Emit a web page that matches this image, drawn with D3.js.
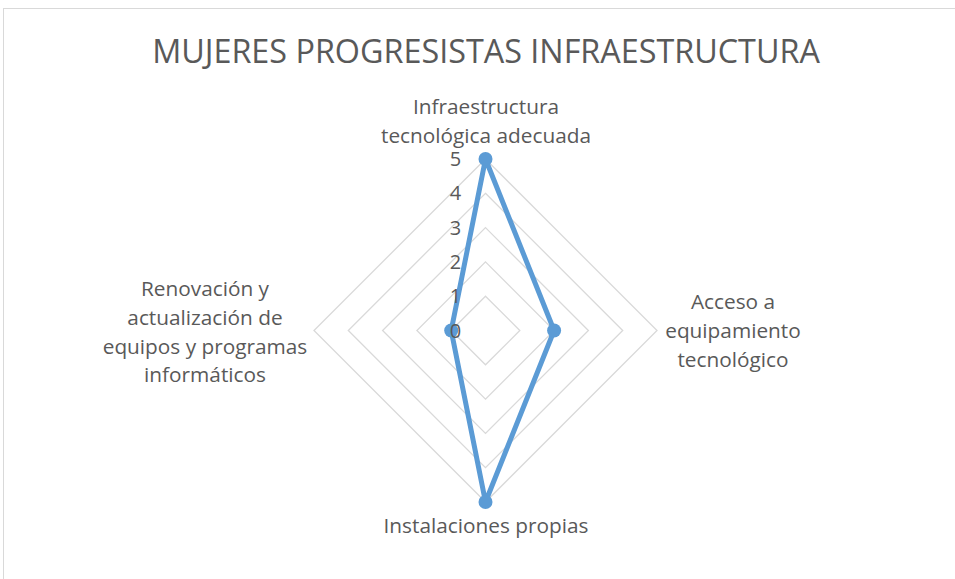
<!DOCTYPE html>
<html>
<head>
<meta charset="utf-8">
<script src="https://cdn.jsdelivr.net/npm/d3@7"></script>
<style>
  html, body { margin: 0; padding: 0; background: #fff; }
  svg { display: block; }
  text { font-family: "Open Sans", "Noto Sans", sans-serif; fill: #595959; }
</style>
</head>
<body>
<svg id="chart" width="955" height="579"></svg>
<script>
const title = "MUJERES PROGRESISTAS INFRAESTRUCTURA";
const categories = [
  ["Infraestructura", "tecnológica adecuada"],
  ["Acceso a", "equipamiento", "tecnológico"],
  ["Instalaciones propias"],
  ["Renovación y", "actualización de", "equipos y programas", "informáticos"]
];
const values = [5, 2, 5, 1];
const tickValues = [0, 1, 2, 3, 4, 5];

const svg = d3.select("#chart");
const cx = 485.5, cy = 330.5, R = 171.5;

// chart border
svg.append("rect")
  .attr("x", 3.5).attr("y", 8.5)
  .attr("width", 1000).attr("height", 1000)
  .attr("fill", "#fff").attr("stroke", "#d9d9d9").attr("stroke-width", 1);

function fit(sel, target, base) {
  const w = sel.node().getComputedTextLength();
  sel.attr("font-size", base * target / w);
}

// title
const t = svg.append("text")
  .attr("x", 486).attr("y", 63)
  .attr("text-anchor", "middle")
  .attr("font-size", 30)
  .text(title);
fit(t, 668, 30);

const r = d3.scaleLinear().domain([0, 5]).range([0, R]);
const angle = d3.scalePoint().domain(d3.range(categories.length)).range([0, 2 * Math.PI * (categories.length - 1) / categories.length]);
const pt = (i, v) => [cx + r(v) * Math.sin(angle(i)), cy - r(v) * Math.cos(angle(i))];

// grid
const g = svg.append("g");
tickValues.filter(v => v > 0).forEach(v => {
  g.append("path")
    .attr("d", d3.line()(categories.map((c, i) => pt(i, v))) + "Z")
    .attr("fill", "none").attr("stroke", "#d9d9d9").attr("stroke-width", 1.3);
});

// data
const pts = values.map((v, i) => pt(i, v));
svg.append("path")
  .attr("d", d3.line()(pts) + "Z")
  .attr("fill", "none").attr("stroke", "#5b9bd5")
  .attr("stroke-width", 5).attr("stroke-linejoin", "round");
svg.selectAll("circle.m").data(pts).enter().append("circle")
  .attr("cx", d => d[0]).attr("cy", d => d[1]).attr("r", 7)
  .attr("fill", "#5b9bd5");

// tick labels
tickValues.forEach(v => {
  svg.append("text")
    .attr("x", cx - 30).attr("y", cy - r(v) + 7)
    .attr("text-anchor", "middle")
    .attr("font-size", 20)
    .text(v);
});

// category labels
const labelPos = [
  { x: 486, y: 106 },
  { x: 733, y: 301 },
  { x: 486, y: 525 },
  { x: 205, y: 288 }
];
const probe = svg.append("text").attr("font-size", 18).text("Instalaciones propias");
const lblSize = 18 * 205 / probe.node().getComputedTextLength();
probe.remove();
const lh = 28.8;
categories.forEach((lines, i) => {
  lines.forEach((s, k) => {
    svg.append("text")
      .attr("x", labelPos[i].x).attr("y", labelPos[i].y + k * lh)
      .attr("text-anchor", "middle")
      .attr("dominant-baseline", "central")
      .attr("font-size", lblSize)
      .text(s);
  });
});
</script>
</body>
</html>
